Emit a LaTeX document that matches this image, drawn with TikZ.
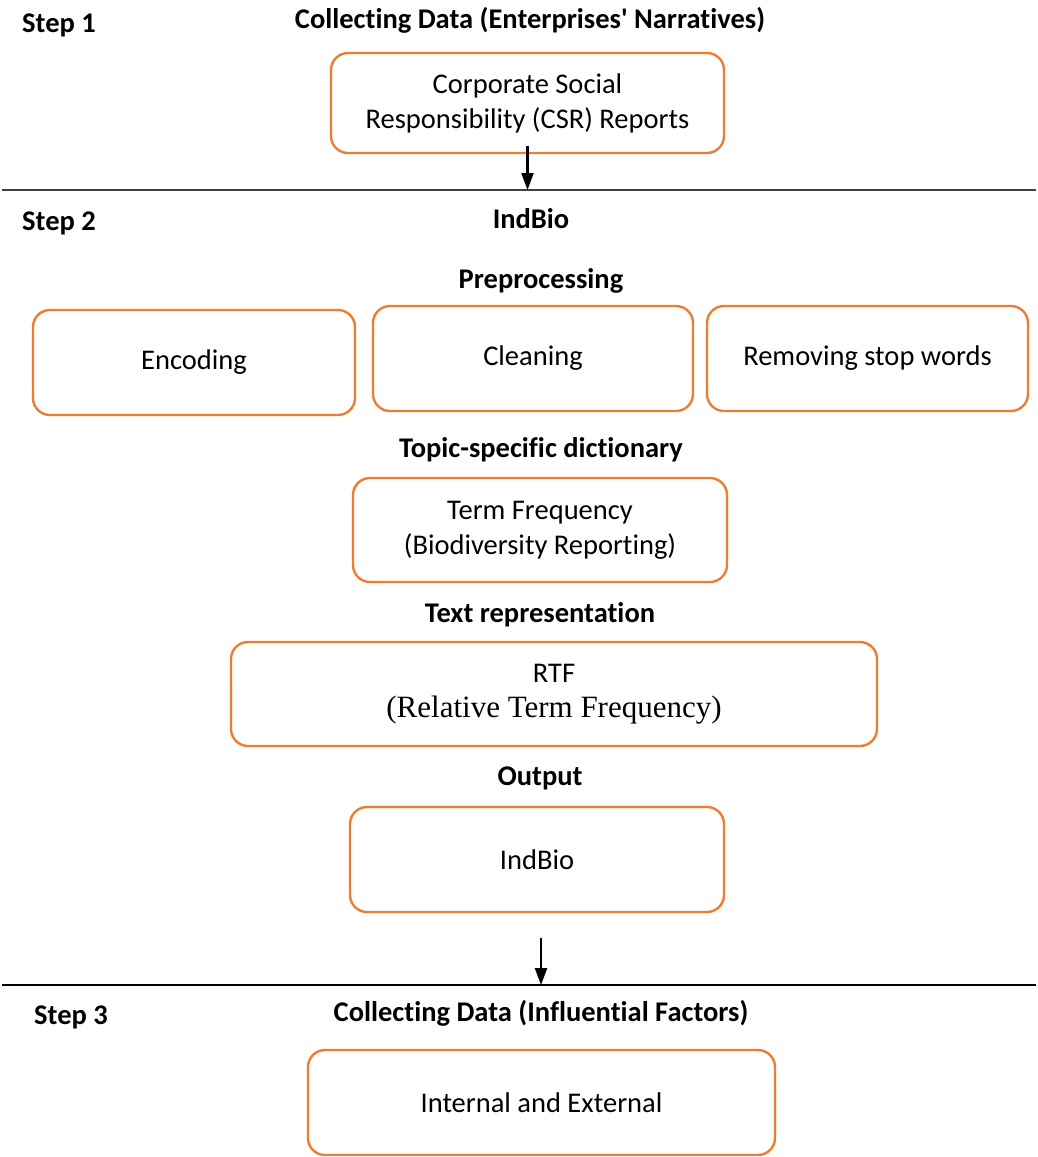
\documentclass[tikz,border=0pt]{standalone}
\usepackage{fontspec}
\setmainfont{Carlito}[Ligatures={NoCommon}]
\newfontfamily\altserif{Liberation Serif}
\usetikzlibrary{arrows.meta}
\definecolor{boxorange}{HTML}{ED7D31}
\definecolor{rulegray}{HTML}{404040}
\begin{document}
\begin{tikzpicture}[x=1pt,y=-1pt,
  every node/.style={inner sep=0pt, font=\fontsize{28.5}{35}\selectfont},
  stagebox/.style={draw=boxorange, line width=2.4pt, rounded corners=17pt, align=center},
  heading/.style={font=\fontsize{28.5}{35}\selectfont\bfseries},
  flow/.style={line width=2.2pt, -{Triangle[length=17pt,width=12pt]}},
  divider/.style={line width=2.2pt}]
\useasboundingbox (0,0) rectangle (1038,1157);

% Step 1
\node[heading] (s1) at (59,25) {Step 1};
\node[heading] (h1) at (530,20) {Collecting Data (Enterprises\textquotesingle\ Narratives)};
\node[stagebox, minimum width=393pt, minimum height=100pt] (csr) at (527.5,103)
  {Corporate Social\\Responsibility (CSR) Reports};
\coordinate (a1s) at (527.5,146);
\coordinate (a1e) at (527.5,190);
\draw[flow] (a1s) -- (a1e);

% first divider
\coordinate (d1l) at (2,190);
\coordinate (d1r) at (1036,190);
\draw[divider, rulegray] (d1l) -- (d1r);

% Step 2
\node[heading] (s2) at (59,223) {Step 2};
\node[heading] (h2) at (531,219) {IndBio};
\node[heading] (h3) at (541,281) {Preprocessing};
\node[stagebox, minimum width=322pt, minimum height=105pt] (enc) at (194,362.5) {Encoding};
\node[stagebox, minimum width=320pt, minimum height=105pt] (cln) at (533,358.5) {Cleaning};
\node[stagebox, minimum width=321pt, minimum height=105pt] (rsw) at (867.5,358.5) {Removing stop words};

\node[heading] (h4) at (541,450) {Topic-specific dictionary};
\node[stagebox, minimum width=374pt, minimum height=104pt] (tf) at (540,530)
  {Term Frequency\\(Biodiversity Reporting)};

\node[heading] (h5) at (540,615) {Text representation};
\node[stagebox, minimum width=646pt, minimum height=104pt] (rtf) at (554,694)
  {RTF\\{\altserif\fontsize{31}{35}\selectfont (Relative Term Frequency)}};

\node[heading] (h6) at (540,778) {Output};
\node[stagebox, minimum width=374pt, minimum height=105pt] (out) at (537,859.5) {IndBio};

\coordinate (a2s) at (541,938);
\coordinate (a2e) at (541,985);
\draw[flow] (a2s) -- (a2e);

% second divider
\coordinate (d2l) at (2,985);
\coordinate (d2r) at (1036,985);
\draw[line width=1.4pt] (d2l) -- (d2r);

% Step 3
\node[heading] (s3) at (71,1017) {Step 3};
\node[heading] (h7) at (541,1013) {Collecting Data (Influential Factors)};
\node[stagebox, minimum width=467pt, minimum height=105pt] (inf) at (541.5,1102.5) {Internal and External};
\end{tikzpicture}
\end{document}
